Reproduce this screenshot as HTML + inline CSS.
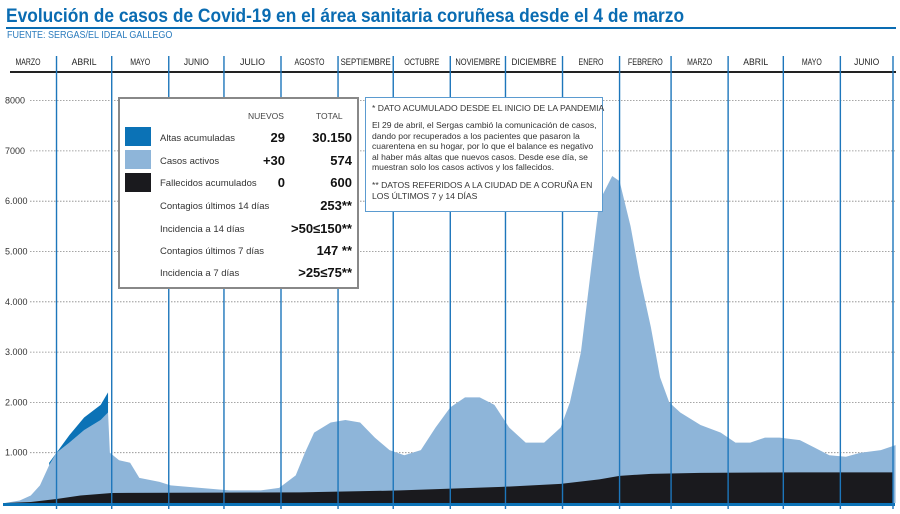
<!DOCTYPE html>
<html><head><meta charset="utf-8">
<style>
body{margin:0;background:#fff;font-family:"Liberation Sans",sans-serif;}
#wrap{position:relative;width:900px;height:514px;overflow:hidden;}
.abs{position:absolute;}
</style></head>
<body>
<div id="wrap">
<div class="abs" style="left:6px;top:5px;font-size:19.5px;font-weight:bold;color:#0a6cb2;white-space:nowrap;transform:scaleX(0.89);transform-origin:0 0;">Evolución de casos de Covid-19 en el área sanitaria coruñesa desde el 4 de marzo</div>
<div class="abs" style="left:6px;top:27px;width:890px;height:2px;background:#0a6cb2;"></div>
<div class="abs" style="left:7px;top:30px;font-size:10px;color:#2a7bbd;transform:scaleX(0.9);transform-origin:0 0;">FUENTE: SERGAS/EL IDEAL GALLEGO</div>
<svg class="abs" style="left:0;top:0" width="900" height="514" id="chart"></svg>

<div class="abs" style="left:118px;top:97px;width:237px;height:188px;border:2px solid #888;background:#fff;font-size:9.5px;color:#333;">
  <div class="abs" style="left:128px;top:12px;font-size:8.5px;color:#444;">NUEVOS</div>
  <div class="abs" style="left:196px;top:12px;font-size:8.5px;color:#444;">TOTAL</div>
  <div class="abs" style="left:5px;top:28px;width:26px;height:19px;background:#0b72b6;"></div>
  <div class="abs" style="left:5px;top:51px;width:26px;height:19px;background:#8eb5d9;"></div>
  <div class="abs" style="left:5px;top:74px;width:26px;height:19px;background:#1a1a1e;"></div>
  <div id="legrows"></div>
</div>

<div class="abs" style="left:365px;top:97px;width:236px;height:113px;border:1.5px solid #5b9bd0;background:#fff;font-size:8.6px;line-height:10.6px;color:#333;">
  <div class="abs" style="left:6px;top:5px;white-space:nowrap;">* DATO ACUMULADO DESDE EL INICIO DE LA PANDEMIA</div>
  <div class="abs" style="left:6px;top:22px;width:230px;">El 29 de abril, el Sergas cambió la comunicación de casos, dando por recuperados a los pacientes que pasaron la cuarentena en su hogar, por lo que el balance es negativo al haber más altas que nuevos casos. Desde ese día, se muestran solo los casos activos y los fallecidos.</div>
  <div class="abs" style="left:6px;top:82px;width:230px;">** DATOS REFERIDOS A LA CIUDAD DE A CORUÑA EN LOS ÚLTIMOS 7 y 14 DÍAS</div>
</div>
</div>
<script>
// ---- data ----
const months = ["MARZO","ABRIL","MAYO","JUNIO","JULIO","AGOSTO","SEPTIEMBRE","OCTUBRE","NOVIEMBRE","DICIEMBRE","ENERO","FEBRERO","MARZO","ABRIL","MAYO","JUNIO"];
const monthStartDays = [-3,28,58,89,119,150,181,211,242,272,303,334,362,393,423,454];
const yTicks = [1000,2000,3000,4000,5000,6000,7000,8000];
const yTickLabels = ["1.000","2.000","3.000","4.000","5.000","6.000","7000","8000"];
const activeDays = [0,8,14,19,24,28,35,43,52,56,57,62,68,73,84,90,106,122,139,149,158,163,168,177,185,193,201,209,217,226,234,242,250,258,266,274,283,293,302,307,313,318,323,330,334,340,345,351,356,361,367,378,389,397,405,413,421,432,440,448,457,465,476,484];
const activeVals = [0,50,150,350,750,1000,1200,1450,1650,1800,1000,850,800,500,420,350,300,250,250,300,550,1000,1400,1600,1650,1600,1300,1050,950,1050,1500,1900,2100,2100,1950,1500,1200,1200,1500,2000,3000,4500,6000,6500,6400,5500,4500,3500,2500,2000,1800,1550,1400,1200,1200,1300,1300,1250,1100,950,920,1000,1050,1150];
const altasDays = [24,28,35,43,52,56];
const altasTotal = [800,1000,1350,1700,1950,2200];
const deathDays = [0,14,28,41,58,160,215,270,302,323,334,351,378,432,484];
const deathVals = [0,20,80,150,200,210,250,320,380,470,540,580,600,610,610];
const legendRows = [["Altas acumuladas","29","30.150"],["Casos activos","+30","574"],["Fallecidos acumulados","0","600"],["Contagios últimos 14 días","","253**"],["Incidencia a 14 días","",">50≤150**"],["Contagios últimos 7 días","","147 **"],["Incidencia a 7 días","",">25≤75**"]];

const NS="http://www.w3.org/2000/svg";
const svg=document.getElementById('chart');
const x=d=>5+d*1.84;
const y=v=>503-v*0.0503;
function mk(t,a){const e=document.createElementNS(NS,t);for(const k in a)e.setAttribute(k,a[k]);svg.appendChild(e);return e;}
const pts=a=>a.map(q=>q.join(',')).join(' ');
// grid
yTicks.forEach((t,i)=>{
  const g=mk('line',{x1:30,x2:895,y1:y(t),y2:y(t),stroke:'#888','stroke-width':0.8,'stroke-dasharray':'1.5,1.5'});
  
  
  const l=mk('text',{x:5,y:y(t)+3,'font-size':9,fill:'#333','font-family':'Liberation Sans'});
  l.textContent=yTickLabels[i];
  
  
});
// active area
{const p=activeDays.map((d,i)=>[x(d),y(activeVals[i])]);
 const lastX=p[p.length-1][0];
 const a=mk('polygon',{points:pts([[x(0),503],...p,[lastX,503]]),fill:'#8eb5d9'});
 
 }
// altas area
{const top=altasDays.map((d,i)=>[x(d),y(altasTotal[i])]);
 const bot=[];
 for(let i=altasDays.length-1;i>=0;i--){const idx=activeDays.indexOf(altasDays[i]);bot.push([x(altasDays[i]),y(activeVals[idx])]);}
 const a=mk('polygon',{points:pts([...top,...bot]),fill:'#0b72b6'});
 
 }
// deaths
{const p=deathDays.map((d,i)=>[x(d),y(deathVals[i])]);
 const a=mk('polygon',{points:pts([[x(0),503],...p,[893,y(deathVals[deathVals.length-1])],[893,503]]),fill:'#1a1a1e'});
 
 }
// baseline
{const b=mk('rect',{x:3,y:503,width:892,height:3,fill:'#0b72b6'});
 
 }
// header line
{const h=mk('rect',{x:10,y:71,width:886,height:2,fill:'#222'});
 
 }
// months
months.forEach((m,i)=>{
  const s=x(monthStartDays[i]), e=i+1<months.length?x(monthStartDays[i+1]):893;
  if(i>0){const l=mk('line',{x1:s,x2:s,y1:56,y2:509,stroke:'#1d76bb','stroke-width':1.4});
    
    }
  const attrs={x:(s+e)/2,y:65,'font-size':9,'text-anchor':'middle',fill:'#222','font-family':'Liberation Sans'};
  const tl=m.length*5.0;
  attrs.textLength=Math.min(tl,e-s-5);
  attrs.lengthAdjust='spacingAndGlyphs';
  const t=mk('text',attrs);
  t.textContent=m;
  
  
});
{const l=mk('line',{x1:893,x2:893,y1:56,y2:509,stroke:'#1d76bb','stroke-width':1.4});
 
 }
// legend rows
const lr=document.getElementById('legrows');
const tops=[39,62,84,107,130,152,174];
legendRows.forEach((r,i)=>{
  const row=document.createElement('div');
  
  
  row.style.cssText=`position:absolute;left:0;top:${tops[i]-8}px;width:237px;height:16px;`;
  row.innerHTML=`<span style="position:absolute;left:40px;top:3px;font-size:9.5px;color:#333;white-space:nowrap">${r[0]}</span><span style="position:absolute;right:72px;top:0;font-size:13px;font-weight:bold;color:#111">${r[1]}</span><span style="position:absolute;right:5px;top:0;font-size:13px;font-weight:bold;color:#111;white-space:nowrap">${r[2]}</span>`;
  lr.appendChild(row);
});
</script>
</body></html>
